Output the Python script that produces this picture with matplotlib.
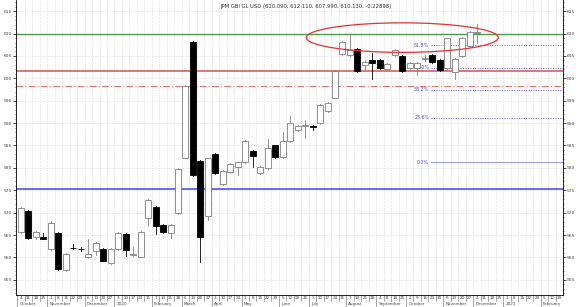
"""Weekly candlestick chart of JPM GBI GL USD with support lines and Fibonacci levels."""

import matplotlib

matplotlib.use("Agg")

import matplotlib.pyplot as plt
import numpy as np
import pandas as pd
from matplotlib.patches import Ellipse, Rectangle
from matplotlib.transforms import blended_transform_factory

TITLE = "JPM GBI GL USD (610.090, 612.110, 607.990, 610.130, -0.22898)"
FIRST_WEEK = "2019-10-04"
N_WEEKS = 73

opens = [565.7, 570.4, 564.5, 564.5, 561.8, 565.5, 557.2, 562.1, 561.9, 560.0,
         561.5, 561.8, 558.7, 561.8, 565.2, 560.5, 560.2, 568.7, 571.2, 567.3,
         565.5, 570.0, 582.3, 608.1, 581.5, 569.2, 583.2, 576.3, 579.1, 580.1,
         581.2, 583.8, 578.8, 580.0, 585.0, 582.5, 586.0, 588.5, 589.3, 589.3,
         590.1, 592.7, 595.7, 605.4, 605.2, 606.5, 603.0, 604.1, 604.2, 602.0,
         605.2, 605.0, 602.2, 602.4, 604.4, 605.2, 604.2, 602.2, 601.5, 605.0,
         607.2, 610.09]
closes = [571.0, 564.4, 565.7, 564.2, 567.6, 557.3, 560.8, 562.0, 561.8, 560.8,
          563.3, 559.3, 561.8, 565.4, 561.6, 560.6, 565.7, 572.8, 567.0, 565.7,
          567.3, 579.7, 598.3, 578.4, 564.5, 582.1, 578.9, 579.3, 580.8, 581.2,
          586.0, 582.6, 580.3, 584.5, 582.5, 586.0, 590.0, 589.3, 589.5, 589.1,
          594.0, 594.5, 601.7, 608.1, 606.3, 601.7, 603.6, 603.5, 602.2, 603.3,
          606.4, 601.7, 603.5, 603.5, 604.6, 603.7, 601.8, 608.9, 604.4, 609.1,
          610.4, 610.13]
highs = [571.2, 570.6, 565.9, 565.5, 568.2, 565.7, 561.0, 563.1, 562.4, 564.0,
         563.5, 562.0, 562.0, 565.6, 565.4, 562.3, 565.9, 573.0, 571.4, 567.5,
         567.5, 579.9, 598.5, 608.3, 581.7, 582.3, 583.4, 579.5, 581.0, 581.4,
         586.2, 584.0, 580.5, 586.5, 585.2, 588.0, 591.5, 589.6, 590.7, 589.5,
         594.2, 594.7, 601.9, 608.3, 609.8, 606.7, 604.2, 605.6, 604.4, 603.5,
         606.6, 605.2, 603.7, 603.7, 605.3, 605.4, 604.4, 609.1, 604.6, 609.3,
         610.6, 612.11]
lows = [565.5, 564.2, 564.0, 564.0, 561.6, 557.1, 557.0, 561.8, 561.5, 559.8,
        560.5, 559.1, 558.5, 561.6, 560.3, 560.3, 560.0, 567.0, 565.2, 565.5,
        564.3, 569.8, 582.1, 578.2, 559.0, 568.3, 578.7, 576.1, 578.9, 578.4,
        581.0, 580.3, 578.6, 579.8, 582.3, 582.3, 585.8, 588.3, 586.7, 588.5,
        589.9, 592.5, 595.5, 605.2, 605.0, 601.5, 601.8, 599.8, 602.0, 601.8,
        605.0, 601.5, 602.0, 600.7, 603.8, 603.5, 601.6, 602.0, 599.8, 604.8,
        607.0, 607.99]

# horizontal levels
green_level = 609.9
red_level = 601.7
red_dash_level = 598.3
blue_level = 575.3

fib_base = 581.2
fib_range = 42.4
fib_ratios = [0.618, 0.5, 0.382, 0.236, 0.0]
fib_labels = ["61.8%", "50.0%", "38.2%", "23.6%", "0.0%"]

YMIN, YMAX = 551.6, 617.5

weeks = pd.date_range(FIRST_WEEK, periods=N_WEEKS, freq="7D")

fig = plt.figure(figsize=(5.8, 3.07), dpi=100)
fig.patch.set_facecolor("white")
ax = fig.add_axes([16 / 580, 12 / 307, 547 / 580, 295 / 307])
ax.set_xlim(-0.67, 72.5)
ax.set_ylim(YMIN, YMAX)

# grid
for i in range(N_WEEKS):
    ax.axvline(i + 0.5, color="#cfcfcf", lw=0.5, ls=(0, (1, 1.5)), zorder=0)
for v in range(555, 616, 5):
    ax.axhline(v, color="#cfcfcf", lw=0.5, ls=(0, (1, 1.5)), zorder=0)

# levels
ax.axhline(green_level, color="#4a9a4a", lw=1.0, zorder=1)
ax.axhline(red_level, color="#f07070", lw=1.4, zorder=1)
ax.axhline(red_dash_level, color="#f07070", lw=0.8, ls=(0, (6, 2, 1, 2)), zorder=1)
ax.axhline(blue_level, color="#6a6af0", lw=1.4, zorder=1)

# fibonacci levels
fib_x0 = 54.8
for ratio, label in zip(fib_ratios, fib_labels):
    lvl = fib_base + ratio * fib_range
    if ratio == 0.0:
        ax.plot([fib_x0, 72.5], [lvl, lvl], color="#a0a0f0", lw=0.8, zorder=1)
    else:
        ax.plot([fib_x0, 72.5], [lvl, lvl], color="#5a5af0", lw=0.7, ls=(0, (1, 1.5)), zorder=1)
    ax.text(fib_x0 - 0.2, lvl, label, color="#4a4af0", fontsize=3.4, ha="right", va="center")

# candles
width = 0.8
for i, (o, h, l, c) in enumerate(zip(opens, highs, lows, closes)):
    up = c >= o
    edge = "#808080" if up else "black"
    ax.plot([i, i], [l, h], color=edge, lw=0.6, zorder=2)
    bottom = min(o, c)
    height = max(abs(c - o), 0.15)
    ax.add_patch(Rectangle((i - width / 2, bottom), width, height,
                           facecolor="white" if up else "black",
                           edgecolor=edge, lw=0.6, zorder=3))

# highlight ellipse
ax.add_patch(Ellipse((51.0, 609.1), 25.7, 6.6, fill=False, edgecolor="#e83030", lw=0.9, zorder=4))

# title
ax.text(0.53, 0.985, TITLE, transform=ax.transAxes, fontsize=3.8, ha="center", va="top", color="#303030")

# y axes on both sides
ax.set_yticks(range(555, 616, 5))
ax.set_yticks(np.arange(552, 618, 1), minor=True)
ax.tick_params(axis="y", which="both", left=True, right=True, labelleft=True, labelright=True,
               labelsize=3.2, labelcolor="#404040", direction="out", pad=0.8)
ax.tick_params(axis="y", which="major", length=2.0, width=0.5)
ax.tick_params(axis="y", which="minor", length=1.0, width=0.4)
ax.set_xticks([])
ax.spines["top"].set_visible(False)
for side in ["left", "right", "bottom"]:
    ax.spines[side].set_linewidth(0.6)

# date axis: week separators, day numbers, month names
trans = blended_transform_factory(ax.transData, ax.transAxes)
px = 1 / 295
prev_month = None
for i, d in enumerate(weeks):
    x0 = i - 0.5
    if x0 > 72.5:
        break
    new_month = d.month != prev_month
    depth = 12 if new_month else 6
    ax.plot([x0, x0], [0, -depth * px], transform=trans, color="#606060", lw=0.4, clip_on=False)
    if i + 0.3 < 72.5:
        ax.text(i, -1.2 * px, str(d.day), transform=trans, fontsize=3.0, ha="center", va="top",
                color="#404040", clip_on=False)
    if new_month:
        name = str(d.year) if d.month == 1 else d.strftime("%B")
        ax.text(x0 + 0.3, -6.8 * px, name, transform=trans, fontsize=3.0, ha="left", va="top",
                color="#404040", clip_on=False)
    prev_month = d.month

fig.savefig("out.png", dpi=100)
